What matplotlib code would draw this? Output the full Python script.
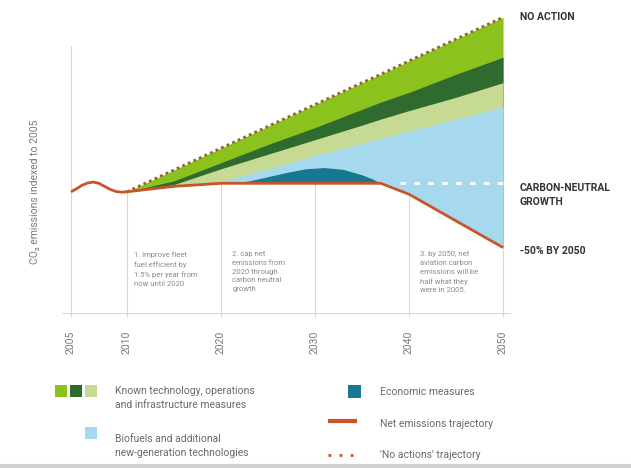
import numpy as np
import matplotlib
matplotlib.use('Agg')
import matplotlib.pyplot as plt
from matplotlib.patches import Rectangle

plt.rcParams['font.family'] = ['Roboto', 'DejaVu Sans']

# --- data (index, 2005 = 100) ---
hist_years = [2005, 2005.5, 2006, 2006.5, 2007, 2007.5, 2008, 2008.5, 2009, 2009.5]
hist_net = [100, 102.5, 105.5, 107.3, 108, 107, 104.5, 102, 100.3, 99.7]

years = [2010, 2015, 2020, 2025, 2030, 2035, 2037, 2040, 2045, 2050]
no_action = [100, 118, 136, 154, 172, 190, 197, 208, 226, 244]
known_tech_1 = [100, 109, 124, 139, 153, 168, 174, 182, 197, 211]   # light green bottom
known_tech_2 = [100, 106, 119, 131, 143, 155, 160, 167, 178, 190]   # dark green bottom
known_tech_3 = [100, 104.5, 108.5, 119, 130, 140, 144, 150, 160, 170]  # pale green bottom
net = [100, 104.5, 107, 107, 107, 107, 107, 98, 76, 54]

econ_years = [2021, 2023, 2025, 2027, 2029, 2031, 2033, 2035, 2036, 2037]
econ_top = [107, 109, 112.5, 116, 119, 120, 118.5, 114, 111, 107]
econ_base = [107, 107, 107, 107, 107, 107, 107, 107, 107, 107]

cng_years = [2039, 2050]
cng = [107, 107]

tick_years = [2005, 2010, 2020, 2030, 2040, 2050]

c_light = '#8cc21e'
c_dark = '#2f6a2f'
c_pale = '#c6da94'
c_blue = '#a6d9ee'
c_teal = '#17788f'
c_net = '#c9542a'
c_dot = '#8a6a2a'
c_text = '#7a7a7a'

fig = plt.figure(figsize=(6.31, 4.68), dpi=100)
W, H = 631, 468
ax = fig.add_axes([62 / W, (H - 313) / H, 448 / W, 303 / H])


def fwd(x):
    x = np.asarray(x, dtype=float)
    return np.where(x < 2010, 2010 - (2010 - x) * 1.19, x)


def inv(y):
    y = np.asarray(y, dtype=float)
    return np.where(y < 2010, 2010 - (2010 - y) / 1.19, y)


ax.set_xscale('function', functions=(fwd, inv))
ax.set_xlim(2004.2, 2050.74)
ax.set_ylim(0, 250)

# stacked wedges, back to front
ax.fill_between(years, no_action, net, color=c_light, lw=0, zorder=2)
ax.fill_between(years, known_tech_1, net, color=c_dark, lw=0, zorder=3)
ax.fill_between(years, known_tech_2, net, color=c_pale, lw=0, zorder=4)
ax.fill_between(years, known_tech_3, net, color=c_blue, lw=0, zorder=5)
ax.fill_between(econ_years, econ_top, econ_base, color=c_teal, lw=0, zorder=6)

# grid lines up to the net trajectory
for yr in tick_years[1:]:
    ax.plot([yr, yr], [0, net[years.index(yr)]], color='#d9d9d9', lw=0.8, zorder=1)

ax.plot(cng_years, cng, color='white', lw=2, ls=(0, (2, 3)), zorder=7)
ax.plot(years, no_action, color=c_dot, lw=2, ls=(0, (1, 1.2)), zorder=8)
ax.plot(hist_years + years, hist_net + net, color=c_net, lw=2, zorder=9,
        solid_capstyle='butt')

for s in ['top', 'right']:
    ax.spines[s].set_visible(False)
ax.spines['left'].set_position(('data', 2005))
ax.spines['left'].set_bounds(0, 220)
ax.spines['left'].set_color('#d9d9d9')
ax.spines['bottom'].set_color('#d9d9d9')
ax.set_yticks([])
ax.set_xticks(tick_years)
ax.set_xticklabels([str(t) for t in tick_years], rotation=90, fontsize=7.5,
                   color=c_text)
ax.tick_params(axis='x', length=3, color='#d9d9d9', pad=10)
ax.patch.set_alpha(0)

# step notes
note_kw = dict(fontsize=5.5, color='#8a8a8a', va='top', ha='left',
               linespacing=1.55)
ax.text(2010.8, 51, '1. improve fleet\nfuel efficient by\n1.5% per year from\nnow until 2020',
        **note_kw)
ax.text(2021.2, 51, '2. cap net\nemissions from\n2020 through\ncarbon neutral\ngrowth',
        **note_kw)
ax.text(2041.2, 51, '3. by 2050, net\naviation carbon\nemissions will be\nhalf what they\nwere in 2005.',
        **note_kw)

fig.text(35 / W, 1 - 192 / H, 'CO\u2082 emissions indexed to 2005', rotation=90,
         ha='center', va='center', fontsize=7.5, color=c_text)

# right-hand labels
lab_kw = dict(fontsize=7.5, fontweight='bold', color='#333333', ha='left',
              va='center')
fig.text(520 / W, 1 - 17 / H, 'NO ACTION', **lab_kw)
fig.text(520 / W, 1 - 195 / H, 'CARBON-NEUTRAL\nGROWTH', linespacing=1.5, **lab_kw)
fig.text(520 / W, 1 - 251 / H, '-50% BY 2050', **lab_kw)

# legend, drawn in pixel coordinates
lg = fig.add_axes([0, 0, 1, 1])
lg.set_xlim(0, W)
lg.set_ylim(H, 0)
lg.axis('off')
for x0, c in [(55, c_light), (70, c_dark), (85, c_pale)]:
    lg.add_patch(Rectangle((x0, 385), 12, 12, color=c, lw=0))
lg.add_patch(Rectangle((85, 427), 12, 12, color=c_blue, lw=0))
lg.add_patch(Rectangle((348, 385), 13, 13, color=c_teal, lw=0))
lg.plot([328, 357], [421, 421], color=c_net, lw=3, solid_capstyle='butt')
lg.plot([328, 357], [455, 455], color=c_net, lw=2, ls=(0, (1, 3)))
leg_kw = dict(fontsize=7.5, color='#6a6a6a', ha='left', va='center',
              linespacing=1.6)
lg.text(115, 398, 'Known technology, operations\nand infrastructure measures', **leg_kw)
lg.text(115, 446, 'Biofuels and additional\nnew-generation technologies', **leg_kw)
lg.text(380, 392, 'Economic measures', **leg_kw)
lg.text(380, 424, 'Net emissions trajectory', **leg_kw)
lg.text(380, 455, "'No actions' trajectory", **leg_kw)
lg.plot([0, W], [466, 466], color='#d0d0d0', lw=3)

fig.savefig('out.png', dpi=100)
